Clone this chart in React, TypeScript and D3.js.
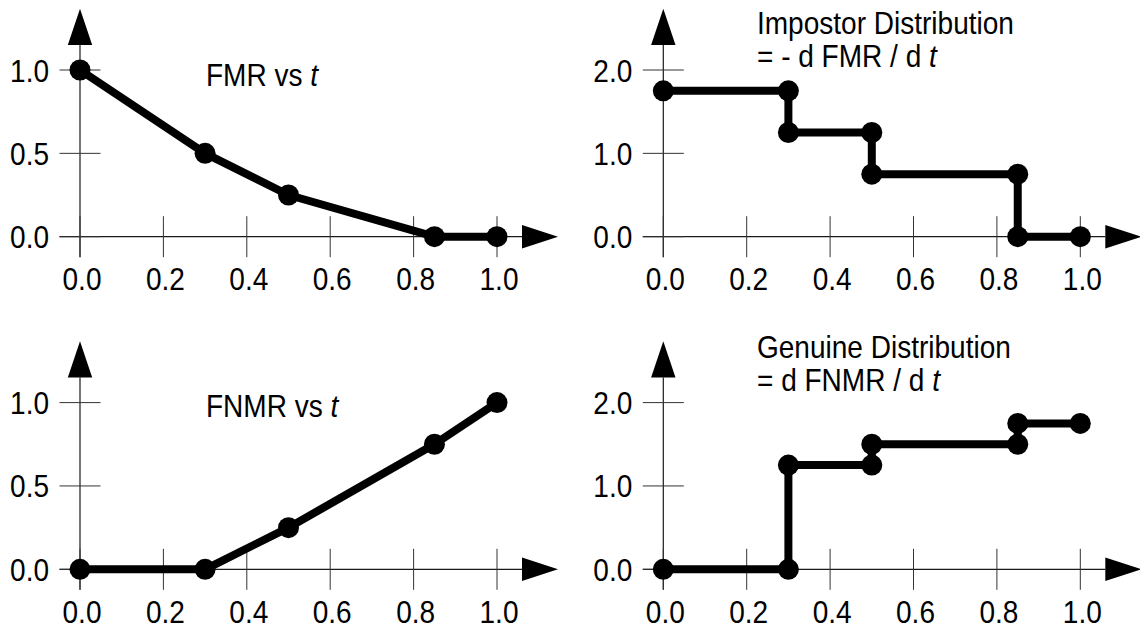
import React from "react";
import * as d3 from "d3";

// ---- data ----
const tValues = [0, 0.3, 0.5, 0.85, 1.0];
const fmrValues = [1.0, 0.5, 0.25, 0.0, 0.0];
const fnmrValues = [0.0, 0.0, 0.25, 0.75, 1.0];
// densities on each interval between tValues
const impostorDensity = [1.75, 1.25, 0.75, 0.0];
const genuineDensity = [0.0, 1.25, 1.5, 1.75];

const xTicks = [0, 0.2, 0.4, 0.6, 0.8, 1.0];
const xTickLabels = ["0.0", "0.2", "0.4", "0.6", "0.8", "1.0"];
const yTicksLeft = [0, 0.5, 1.0];
const yTickLabelsLeft = ["0.0", "0.5", "1.0"];
const yTicksRight = [0, 1.0, 2.0];
const yTickLabelsRight = ["0.0", "1.0", "2.0"];

type Pt = [number, number];

function stepPoints(ts: number[], dens: number[]): Pt[] {
  const pts: Pt[] = [];
  for (let i = 0; i < dens.length; i++) {
    pts.push([ts[i], dens[i]]);
    pts.push([ts[i + 1], dens[i]]);
  }
  return pts;
}

const FONT = "'Liberation Sans', Arial, Helvetica, sans-serif";
const FS = 31.5;
const SX = 0.89;

function T(props: {
  x: number;
  y: number;
  anchor?: "start" | "middle" | "end";
  children: React.ReactNode;
}) {
  return (
    <text
      transform={`translate(${props.x},${props.y}) scale(${SX},1)`}
      textAnchor={props.anchor || "start"}
      fontFamily={FONT}
      fontSize={FS}
      fill="#000"
    >
      {props.children}
    </text>
  );
}

interface PanelProps {
  ox: number;
  oy: number;
  yMax: number;
  yTicks: number[];
  yLabels: string[];
  points: Pt[];
  step: boolean;
}

function Panel({ ox, oy, yMax, yTicks, yLabels, points, step }: PanelProps) {
  const x = d3.scaleLinear().domain([0, 1]).range([ox, ox + 417]);
  const y = d3.scaleLinear().domain([0, yMax]).range([oy, oy - 166.7]);
  const line = d3
    .line<Pt>()
    .x((d) => x(d[0]))
    .y((d) => y(d[1]));
  const axisColor = "#1a1a1a";
  const tickColor = "#333";
  const arrowTipY = oy - 228;
  const arrowBaseY = oy - 191.7;
  const xArrowBase = x(1) + 25;
  const xArrowTip = x(1) + 61;
  return (
    <g>
      {/* y axis */}
      <line x1={ox} x2={ox} y1={arrowBaseY} y2={oy + 20.5} stroke={axisColor} strokeWidth={1.2} />
      <path
        d={`M${ox},${arrowTipY} L${ox - 12.2},${arrowBaseY} L${ox + 12.2},${arrowBaseY} Z`}
        fill="#000"
      />
      {/* x axis */}
      <line x1={ox - 20.5} x2={xArrowBase} y1={oy} y2={oy} stroke={axisColor} strokeWidth={1.2} />
      <path
        d={`M${xArrowTip},${oy} L${xArrowBase},${oy - 11.8} L${xArrowBase},${oy + 11.8} Z`}
        fill="#000"
      />
      {/* y ticks */}
      {yTicks.map((v, i) => (
        <g key={"yt" + i}>
          <line x1={ox - 20.5} x2={ox + 20.5} y1={y(v)} y2={y(v)} stroke={tickColor} strokeWidth={1} />
          <T x={ox - 31} y={y(v) + 11.5} anchor="end">
            {yLabels[i]}
          </T>
        </g>
      ))}
      {/* x ticks */}
      {xTicks.map((v, i) => (
        <g key={"xt" + i}>
          <line x1={x(v)} x2={x(v)} y1={oy - 20.5} y2={oy + 20.5} stroke={tickColor} strokeWidth={1} />
          <T x={x(v) + 2} y={oy + 53.3} anchor="middle">
            {xTickLabels[i]}
          </T>
        </g>
      ))}
      {/* data */}
      <path
        d={line(points) || ""}
        fill="none"
        stroke="#000"
        strokeWidth={8}
        strokeLinejoin={step ? "miter" : "round"}
      />
      {points.map((p, i) => (
        <circle key={"pt" + i} cx={x(p[0])} cy={y(p[1])} r={10.5} fill="#000" />
      ))}
    </g>
  );
}

export default function App() {
  const fmrPts: Pt[] = tValues.map((t, i) => [t, fmrValues[i]]);
  const fnmrPts: Pt[] = tValues.map((t, i) => [t, fnmrValues[i]]);
  const impPts = stepPoints(tValues, impostorDensity);
  const genPts = stepPoints(tValues, genuineDensity);

  const leftX = 80;
  const rightX = 663.3;
  const topY = 236.7;
  const botY = 569.3;

  return (
    <svg
      width={1140}
      height={635}
      style={{ position: "absolute", left: 0, top: 0, display: "block", background: "#fff" }}
    >
      <rect x={0} y={0} width={1140} height={635} fill="#fff" />
      <Panel ox={leftX} oy={topY} yMax={1} yTicks={yTicksLeft} yLabels={yTickLabelsLeft} points={fmrPts} step={false} />
      <Panel ox={rightX} oy={topY} yMax={2} yTicks={yTicksRight} yLabels={yTickLabelsRight} points={impPts} step={true} />
      <Panel ox={leftX} oy={botY} yMax={1} yTicks={yTicksLeft} yLabels={yTickLabelsLeft} points={fnmrPts} step={false} />
      <Panel ox={rightX} oy={botY} yMax={2} yTicks={yTicksRight} yLabels={yTickLabelsRight} points={genPts} step={true} />

      {/* titles */}
      <T x={206} y={86}>
        FMR vs <tspan fontStyle="italic">t</tspan>
      </T>
      <T x={206} y={416.7}>
        FNMR vs <tspan fontStyle="italic">t</tspan>
      </T>
      <T x={757} y={34.3}>Impostor Distribution</T>
      <T x={757} y={66.7}>
        = - d FMR / d <tspan fontStyle="italic">t</tspan>
      </T>
      <T x={757} y={358.3}>Genuine Distribution</T>
      <T x={757} y={390.5}>
        = d FNMR / d <tspan fontStyle="italic">t</tspan>
      </T>
    </svg>
  );
}
